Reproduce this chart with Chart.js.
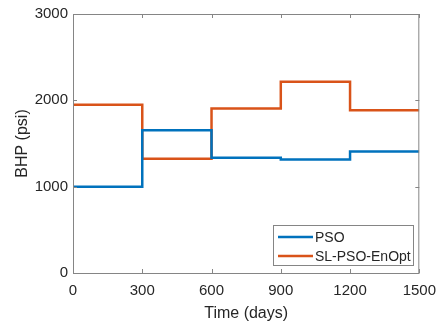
<!DOCTYPE html>
<html>
<head>
<meta charset="utf-8">
<script src="https://cdn.jsdelivr.net/npm/chart.js@4/dist/chart.umd.min.js"></script>
<style>
  html, body { margin: 0; padding: 0; background: #fff; }
  #wrap { width: 445px; height: 327px; }
</style>
</head>
<body>
<div id="wrap"><canvas id="bhpChart" width="445" height="327"></canvas></div>
<script>
const days = [0, 300, 600, 900, 1200, 1500];
const psoBHP = [1000, 1654, 1334, 1315, 1408, 1408];
const slpsoBHP = [1950, 1322, 1904, 2215, 1884, 1884];
const seriesNames = ["PSO", "SL-PSO-EnOpt"];
const xTicks = [0, 300, 600, 900, 1200, 1500];
const yTicks = [0, 1000, 2000, 3000];

const axisGray = "#858585";
const textColor = "#262626";
const fontFamily = "'Liberation Sans', Arial, sans-serif";

const toPoints = (xs, ys) => xs.map((x, i) => ({ x: x, y: ys[i] }));

// box round the plot plus inner ticks on all four sides
const boxPlugin = {
  id: "boxPlugin",
  afterDraw(chart) {
    const { ctx, chartArea: a, scales } = chart;
    ctx.save();
    ctx.strokeStyle = axisGray;
    ctx.lineWidth = 1;
    ctx.strokeRect(a.left + 0.5, a.top + 0.5, a.right - a.left - 1, a.bottom - a.top);
    const len = 4;
    ctx.beginPath();
    xTicks.forEach((v) => {
      const px = Math.round(scales.x.getPixelForValue(v)) + 0.5;
      ctx.moveTo(px, a.bottom);
      ctx.lineTo(px, a.bottom - len);
      ctx.moveTo(px, a.top);
      ctx.lineTo(px, a.top + len);
    });
    yTicks.forEach((v) => {
      const py = Math.round(scales.y.getPixelForValue(v)) + 0.5;
      ctx.moveTo(a.left, py);
      ctx.lineTo(a.left + len, py);
      ctx.moveTo(a.right, py);
      ctx.lineTo(a.right - len, py);
    });
    ctx.stroke();

    // legend in the lower right corner
    const bx = 273, by = 225, bw = 140, bh = 40;
    ctx.fillStyle = "#fff";
    ctx.fillRect(bx, by, bw, bh);
    ctx.strokeStyle = axisGray;
    ctx.strokeRect(bx + 0.5, by + 0.5, bw, bh);
    ctx.font = "14px " + fontFamily;
    ctx.textBaseline = "middle";
    chart.data.datasets.forEach((ds, i) => {
      const ry = by + 12 + i * 19;
      ctx.strokeStyle = ds.borderColor;
      ctx.lineWidth = 2.5;
      ctx.beginPath();
      ctx.moveTo(bx + 5, ry);
      ctx.lineTo(bx + 40, ry);
      ctx.stroke();
      ctx.fillStyle = textColor;
      ctx.fillText(ds.label, bx + 42, ry + 1);
    });
    ctx.restore();
  }
};

new Chart(document.getElementById("bhpChart"), {
  type: "line",
  data: {
    datasets: [
      {
        label: seriesNames[0],
        data: toPoints(days, psoBHP),
        borderColor: "#0072BD",
        borderWidth: 2.5,
        stepped: "before",
        pointRadius: 0,
        fill: false
      },
      {
        label: seriesNames[1],
        data: toPoints(days, slpsoBHP),
        borderColor: "#D95319",
        borderWidth: 2.5,
        stepped: "before",
        pointRadius: 0,
        fill: false
      }
    ]
  },
  options: {
    responsive: false,
    animation: false,
    layout: { padding: { top: 13, right: 24, left: 13, bottom: 0 } },
    plugins: {
      legend: { display: false },
      tooltip: { enabled: false }
    },
    scales: {
      x: {
        type: "linear",
        min: 0,
        max: 1500,
        afterBuildTicks: (s) => { s.ticks = xTicks.map((v) => ({ value: v })); },
        afterFit: (s) => { s.height = 54; },
        grid: { display: false, drawTicks: false },
        border: { display: false },
        ticks: { color: textColor, font: { family: fontFamily, size: 15 }, padding: 9, maxRotation: 0, callback: (v) => String(v) },
        title: { display: true, text: "Time (days)", color: textColor, font: { family: fontFamily, size: 16 }, padding: { top: 0 } }
      },
      y: {
        min: 0,
        max: 3000,
        afterBuildTicks: (s) => { s.ticks = yTicks.map((v) => ({ value: v })); },
        afterFit: (s) => { s.width = 60; },
        grid: { display: false, drawTicks: false },
        border: { display: false },
        ticks: { color: textColor, font: { family: fontFamily, size: 15 }, padding: 5, callback: (v) => String(v) },
        title: { display: true, text: "BHP (psi)", color: textColor, font: { family: fontFamily, size: 16 }, padding: { top: 0, bottom: 0 } }
      }
    }
  },
  plugins: [boxPlugin]
});
</script>
</body>
</html>
